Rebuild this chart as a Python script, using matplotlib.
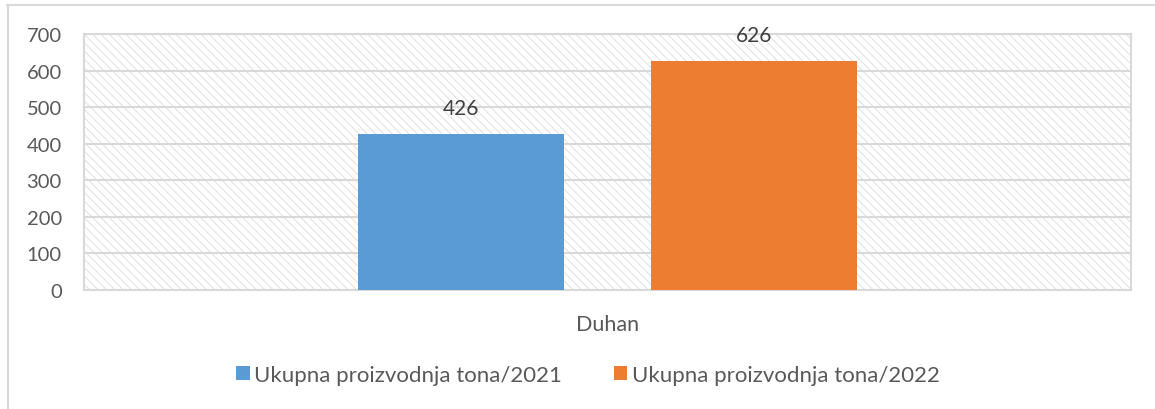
import numpy as np
import matplotlib
matplotlib.use('Agg')
import matplotlib.pyplot as plt
from matplotlib.lines import Line2D
from matplotlib.patches import Patch

category = 'Duhan'
series_names = ['Ukupna proizvodnja tona/2021', 'Ukupna proizvodnja tona/2022']
values = [426, 626]
colors = ['#5b9bd5', '#ed7d31']
yticks = [0, 100, 200, 300, 400, 500, 600, 700]

plt.rcParams['font.family'] = ['Lato', 'DejaVu Sans']
plt.rcParams['hatch.linewidth'] = 0.6
plt.rcParams['hatch.color'] = '#dcdcdc'

W, H = 1155, 410
fig = plt.figure(figsize=(W / 100, H / 100), dpi=100)
ax = fig.add_axes([84 / W, 1 - 291 / H, (1131 - 84) / W, (291 - 35) / H])

# hatched plot area background
ax.add_patch(plt.Rectangle((0, 0), 1, 1, transform=ax.transAxes, facecolor='white',
                           edgecolor='#dcdcdc', hatch='\\\\\\\\', lw=0, zorder=0))

bar_w = 206 / 1047
offsets = [-0.14, 0.14]
for off, v, c in zip(offsets, values, colors):
    ax.bar(off, v, width=bar_w, color=c, zorder=3)
    ax.text(off, v + 45, str(v), ha='center', va='bottom', fontsize=15, color='#404040', zorder=4)

ax.set_xlim(-0.5, 0.5)
ax.set_ylim(0, 700)
ax.set_yticks(yticks)
ax.set_yticklabels([str(t) for t in yticks], fontsize=14.5, color='#595959')
ax.set_xticks([0])
ax.set_xticklabels([category], fontsize=15.5, color='#595959')
ax.tick_params(axis='both', length=0)
ax.tick_params(axis='y', pad=16)
ax.tick_params(axis='x', pad=17)
ax.grid(axis='y', color='#d9d9d9', lw=1.5, zorder=1)
ax.set_axisbelow(True)
for s in ax.spines.values():
    s.set_color('#d9d9d9')
    s.set_linewidth(1.5)

handles = [Patch(facecolor=c, label=n) for c, n in zip(colors, series_names)]
fig.legend(handles=handles, loc='center', bbox_to_anchor=(588 / W, 1 - 376 / H), ncol=2,
           frameon=False, fontsize=16, labelcolor='#595959', handlelength=0.6,
           handleheight=0.6, handletextpad=0.2, columnspacing=2.34)

# chart area border (top and left visible)
fig.add_artist(Line2D([7 / W, 1], [1 - 6 / H, 1 - 6 / H], color='#d9d9d9', lw=1.5))
fig.add_artist(Line2D([8 / W, 8 / W], [0, 1 - 6 / H], color='#d9d9d9', lw=1.5))

fig.savefig('out.png', dpi=100)
